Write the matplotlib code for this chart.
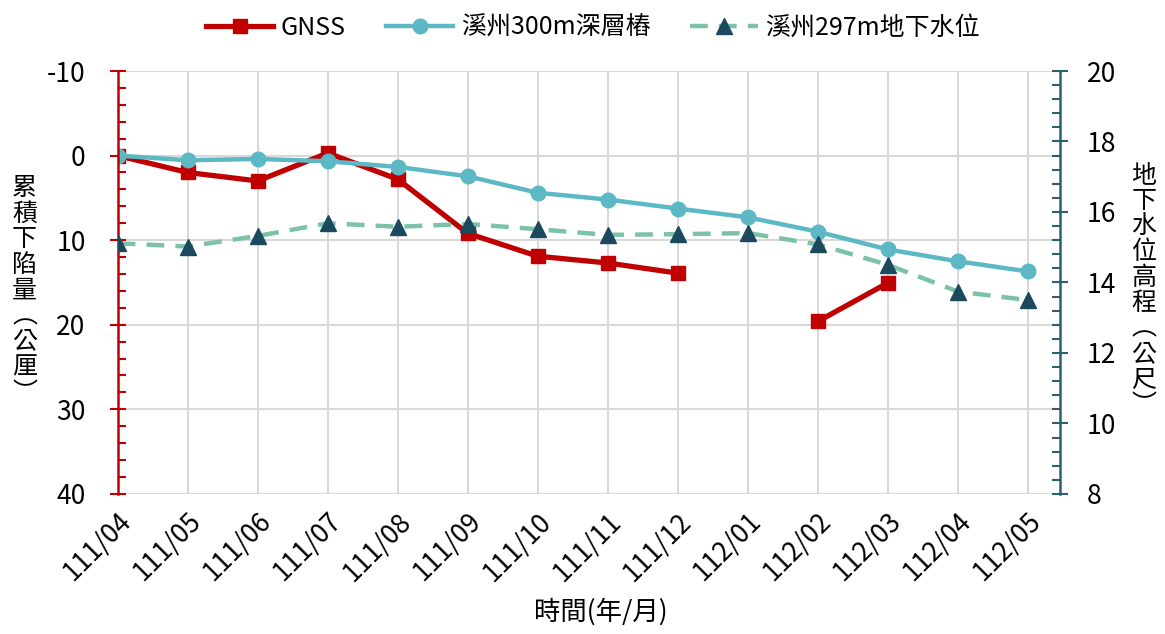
import matplotlib
matplotlib.use('Agg')
import matplotlib.pyplot as plt
import numpy as np
from matplotlib.ticker import MultipleLocator

plt.rcParams['font.family'] = ['Noto Sans CJK TC', 'DejaVu Sans']
plt.rcParams['axes.unicode_minus'] = False

months = ['111/04', '111/05', '111/06', '111/07', '111/08', '111/09', '111/10',
          '111/11', '111/12', '112/01', '112/02', '112/03', '112/04', '112/05']
gnss = [0, 2.0, 3.0, -0.3, 2.8, 9.2, 11.9, 12.7, 13.9, np.nan, 19.6, 15.05, np.nan, np.nan]
deep = [0, 0.55, 0.4, 0.67, 1.34, 2.45, 4.4, 5.2, 6.26, 7.3, 9.0, 11.1, 12.5, 13.7]
gw = [15.11, 15.02, 15.32, 15.68, 15.58, 15.66, 15.51, 15.35, 15.37, 15.4,
      15.08, 14.5, 13.74, 13.5]

red = '#C00000'
cyan = '#5BB8C4'
green = '#7CC2A8'
navy = '#1B4A5E'
teal = '#2E5F70'

x = np.arange(len(months))

fig = plt.figure(figsize=(11.65, 6.34), dpi=100)
ax = fig.add_axes([0.101, 0.221, 0.809, 0.667])
ax2 = ax.twinx()

l1, = ax.plot(x, gnss, color=red, lw=3.8, marker='s', ms=10.5, label='GNSS')
l2, = ax.plot(x, deep, color=cyan, lw=3.2, marker='o', ms=10.5, label='溪州300m深層樁')
l3, = ax2.plot(x, gw, color=green, lw=3.2, ls=(0, (4, 2.5)), marker='^', ms=11.5,
               mfc=navy, mec=navy, label='溪州297m地下水位')

ax.set_xlim(0, 13.46)
ax.set_ylim(40, -10)
ax2.set_ylim(8, 20)

ax.set_xticks(x)
ax.set_xticklabels(months, rotation=45, ha='right', rotation_mode='anchor', fontsize=19)
ax.tick_params(axis='x', length=0, pad=10)
ax.grid(True, color='#D9D9D9', lw=1.5)
ax.set_axisbelow(True)

ax.yaxis.set_major_locator(MultipleLocator(10))
ax.yaxis.set_minor_locator(MultipleLocator(2))
ax.tick_params(axis='y', which='major', direction='inout', length=12, width=1.5,
               color=red, labelsize=19, pad=17)
ax.tick_params(axis='y', which='minor', direction='in', length=6, width=1.5, color=red)

ax2.yaxis.set_major_locator(MultipleLocator(2))
ax2.yaxis.set_minor_locator(MultipleLocator(0.4))
ax2.tick_params(axis='y', which='major', direction='inout', length=12, width=1.5,
                color=teal, labelsize=19, pad=13)
ax2.tick_params(axis='y', which='minor', direction='in', length=6, width=1.5, color=teal)

for a in (ax, ax2):
    for s in a.spines.values():
        s.set_visible(False)
ax.spines['left'].set_visible(True)
ax.spines['left'].set_color(red)
ax.spines['left'].set_linewidth(1.8)
ax2.spines['right'].set_visible(True)
ax2.spines['right'].set_color(teal)
ax2.spines['right'].set_linewidth(1.8)

ax.set_xlabel('時間(年/月)', fontsize=19, va='center')
ax.xaxis.set_label_coords(0.513, -0.279)

fig.text(0.021, 0.542, '\n'.join('累積下陷量︵公厘︶'), fontsize=18,
         ha='center', va='center', linespacing=0.98)
fig.text(0.982, 0.542, '\n'.join('地下水位高程︵公尺︶'), fontsize=18,
         ha='center', va='center', linespacing=0.98)

fig.legend(handles=[l1, l2, l3], loc='upper center', bbox_to_anchor=(0.509, 1.012),
           ncol=3, frameon=False, fontsize=18, handlelength=2.7, columnspacing=1.6,
           handletextpad=0.3)

fig.savefig('out.png', dpi=100)
